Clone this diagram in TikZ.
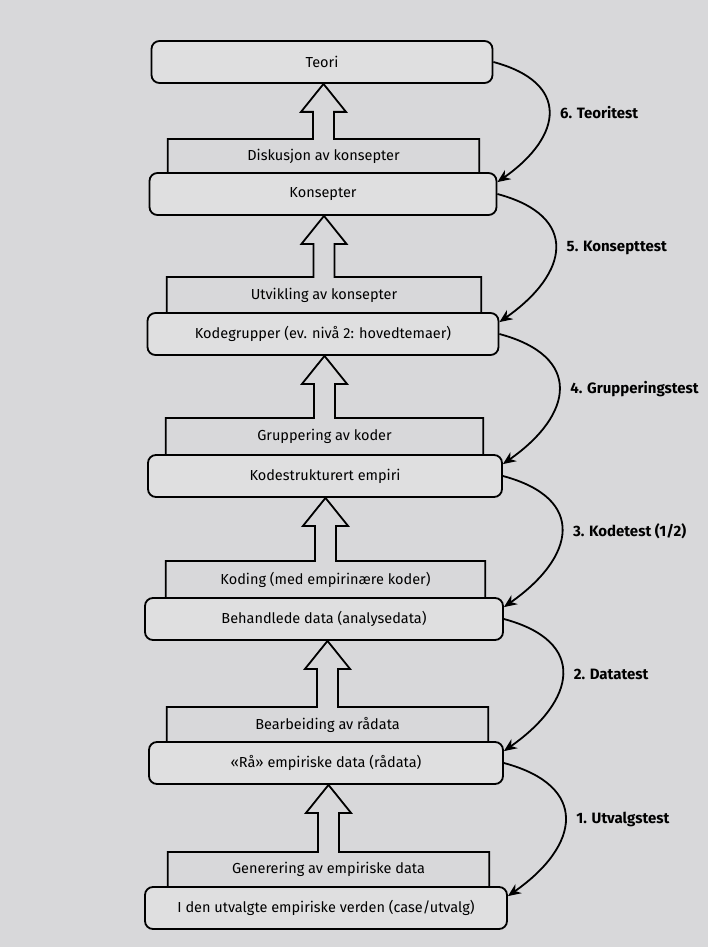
\documentclass[tikz,border=0pt]{standalone}
\usepackage{fontspec}
\setmainfont{Fira Sans}
\usetikzlibrary{arrows.meta,calc}

\definecolor{papir}{HTML}{D8D8DA}
\definecolor{boksfarge}{HTML}{DFDFE0}

\begin{document}
\begin{tikzpicture}[x=1pt, y=1pt,
    boks/.style={draw, line width=1.8pt, rounded corners=8pt, fill=boksfarge, minimum height=42pt, inner sep=0pt, font=\fontsize{14.5}{16}\selectfont},
    prosess/.style={anchor=north, inner sep=0pt, font=\fontsize{14.5}{16}\selectfont},
    kant/.style={line width=1.8pt, line join=miter},
    test/.style={line width=1.8pt, -{Stealth[length=13pt,width=11pt]}},
    testnavn/.style={right=7pt, font=\fontsize{15}{17}\selectfont\bfseries}]

    % Papir
    \fill[papir] (0,0) rectangle (708,-947);

    % Nivåer
    \node[boks, minimum width=341pt] (teori) at (322,-62) {Teori};
    \node[boks, minimum width=347pt] (kons) at (323,-194) {Konsepter};
    \node[boks, minimum width=351pt] (kode) at (323,-334) {Kodegrupper (ev. nivå 2: hovedtemaer)};
    \node[boks, minimum width=354pt] (struk) at (325,-476) {Kodestrukturert empiri};
    \node[boks, minimum width=358pt] (beh) at (324,-619) {Behandlede data (analysedata)};
    \node[boks, minimum width=354pt] (raa) at (326,-763) {«Rå» empiriske data (rådata)};
    \node[boks, minimum width=362pt] (verd) at (326,-908) {I den utvalgte empiriske verden (case/utvalg)};

    % Prosesser mellom nivåene
    \node[prosess, minimum width=311pt, minimum height=34pt] (disk) at (323.5,-139) {Diskusjon av konsepter};
    \node[prosess, minimum width=314pt, minimum height=36pt] (utv) at (324,-277) {Utvikling av konsepter};
    \node[prosess, minimum width=317pt, minimum height=37pt] (grup) at (324.5,-418) {Gruppering av koder};
    \node[prosess, minimum width=319pt, minimum height=37pt] (kod) at (325.5,-561) {Koding (med empirinære koder)};
    \node[prosess, minimum width=321pt, minimum height=35pt] (bear) at (327.5,-707) {Bearbeiding av rådata};
    \node[prosess, minimum width=321pt, minimum height=35pt] (gen) at (328.5,-852) {Generering av empiriske data};

    % Ramme og pil opp til neste nivå
    \foreach \p/\b in {disk/teori, utv/kons, grup/kode, kod/struk, bear/beh, gen/raa}
        \draw[kant] (\p.south west) -- (\p.north west) -- ($(\p.north)+(-10.5,0)$)
            -- ($(\p.north |- \b.south)+(-10.5,-28)$) -- ($(\p.north |- \b.south)+(-22.5,-28)$)
            -- (\p.north |- \b.south)
            -- ($(\p.north |- \b.south)+(22.5,-28)$) -- ($(\p.north |- \b.south)+(10.5,-28)$)
            -- ($(\p.north)+(10.5,0)$) -- (\p.north east) -- (\p.south east);

    % Tester
    \draw[test] (teori.east) to[out=-15, in=35, looseness=1.7] node[testnavn] {6. Teoritest} ([yshift=-10pt]kons.north east);
    \draw[test] (kons.east) to[out=-15, in=35, looseness=1.7] node[testnavn] {5. Konsepttest} ([yshift=-10pt]kode.north east);
    \draw[test] (kode.east) to[out=-15, in=35, looseness=1.7] node[testnavn] {4. Grupperingstest} ([yshift=-10pt]struk.north east);
    \draw[test] (struk.east) to[out=-15, in=35, looseness=1.7] node[testnavn] {3. Kodetest (1/2)} ([yshift=-10pt]beh.north east);
    \draw[test] (beh.east) to[out=-15, in=35, looseness=1.7] node[testnavn] {2. Datatest} ([yshift=-10pt]raa.north east);
    \draw[test] (raa.east) to[out=-15, in=35, looseness=1.7] node[testnavn] {1. Utvalgstest} ([yshift=-10pt]verd.north east);
\end{tikzpicture}
\end{document}
